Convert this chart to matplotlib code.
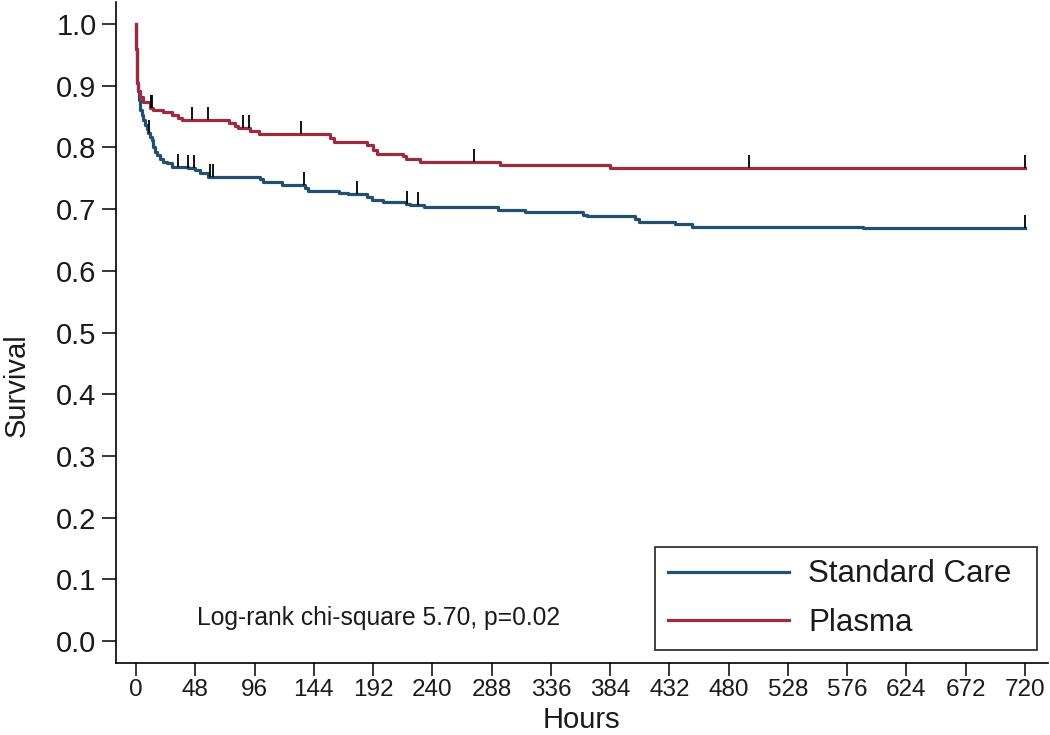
import numpy as np
import matplotlib
matplotlib.use("Agg")
import matplotlib.pyplot as plt

plt.rcParams['font.family'] = ['Liberation Sans', 'DejaVu Sans']

# Kaplan-Meier step estimates: event times (hours) and survival just after each step
care_times = [0, 0.3, 0.6, 1.5, 2.5, 3.5, 4.6, 5.9, 7.3, 8.6, 10, 11.3, 12.7, 14,
              15.4, 16.7, 19.4, 22, 25, 29, 42, 48, 52, 58.6, 100.4, 103, 118,
              137, 139.6, 164, 172, 187, 191, 200, 219, 222, 233, 293.5, 315,
              362, 365, 404, 407, 436.5, 450, 589]
care_surv = [1.0, 0.96, 0.905, 0.891, 0.877, 0.861, 0.853, 0.845, 0.837, 0.829,
             0.823, 0.817, 0.812, 0.801, 0.793, 0.788, 0.782, 0.777, 0.774, 0.769,
             0.766, 0.763, 0.758, 0.752, 0.748, 0.744, 0.739, 0.734, 0.730, 0.726,
             0.724, 0.720, 0.715, 0.712, 0.708, 0.706, 0.703, 0.699, 0.696, 0.691,
             0.689, 0.684, 0.679, 0.676, 0.671, 0.669]
care_censored = [10.5, 34, 42.5, 47.2, 60, 62.1, 136, 178.7, 219.8, 228.2, 720]

plasma_times = [0, 0.3, 0.6, 1.5, 3, 6, 11.5, 14, 22, 29, 34, 37, 75, 80, 83, 92,
                100, 157, 160, 187, 192, 195, 216.5, 219, 230, 295, 384]
plasma_surv = [1.0, 0.96, 0.905, 0.891, 0.881, 0.874, 0.864, 0.861, 0.858, 0.853,
               0.848, 0.845, 0.839, 0.834, 0.831, 0.826, 0.822, 0.816, 0.809, 0.804,
               0.796, 0.789, 0.786, 0.782, 0.777, 0.772, 0.767]
plasma_censored = [12, 12.7, 45, 58.6, 87, 91.5, 133.4, 274, 496.5, 720]

follow_up_end = 720
x_ticks = list(range(0, 721, 48))
y_ticks = [0.0, 0.1, 0.2, 0.3, 0.4, 0.5, 0.6, 0.7, 0.8, 0.9, 1.0]
labels = ["Standard Care", "Plasma"]
annotation = "Log-rank chi-square 5.70, p=0.02"

care_color = "#23506F"
plasma_color = "#9E2A3F"
ink = "#1a1a1a"

W, H = 1050, 735
fig = plt.figure(figsize=(W / 100, H / 100), dpi=100)
ax = fig.add_axes([116 / W, 1 - 662.7 / H, (1048 - 116) / W, (662.7 - 2) / H])


def km_curve(ax, times, surv, censored, color, label):
    t = np.append(times, follow_up_end)
    s = np.append(surv, surv[-1])
    ax.step(t, s, where="post", color=color, lw=2.3, label=label, zorder=3)
    idx = np.searchsorted(times, censored, side="right") - 1
    levels = np.asarray(surv)[idx]
    ax.vlines(censored, levels, levels + 0.021, color="black", lw=1.3, zorder=4)


km_curve(ax, care_times, care_surv, care_censored, care_color, labels[0])
km_curve(ax, plasma_times, plasma_surv, plasma_censored, plasma_color, labels[1])

ax.set_xlim(-16.2, 738.6)
ax.set_ylim(-0.035, 1.0356)
ax.set_xticks(x_ticks)
ax.set_yticks(y_ticks)
ax.set_yticklabels([f"{v:.1f}" for v in y_ticks])

for side in ("top", "right"):
    ax.spines[side].set_visible(False)
for side in ("left", "bottom"):
    ax.spines[side].set_linewidth(1.2)
    ax.spines[side].set_color("black")

ax.tick_params(axis="y", direction="out", length=10, width=1.1, pad=4,
               labelsize=21, labelcolor=ink)
ax.tick_params(axis="x", direction="out", length=9, width=1.1, pad=3,
               labelsize=17.5, labelcolor=ink)

fig.text(17 / W, 1 - 385 / H, "Survival", rotation=90, ha="center", va="center",
         fontsize=21, color=ink)
fig.text(581 / W, 1 - 720 / H, "Hours", ha="center", va="center",
         fontsize=21, color=ink)
fig.text(197 / W, 1 - 617.5 / H, annotation, ha="left", va="center",
         fontsize=17.7, color=ink)

# Legend box spans a fixed width; the single column is stretched to fill it
leg = ax.legend(loc="upper left",
                bbox_to_anchor=(655 / W, 1 - 650 / H, (1037 - 655) / W, (650 - 547) / H),
                bbox_transform=fig.transFigure, mode="expand", fontsize=22.5,
                frameon=True, fancybox=False, edgecolor="black", handlelength=3.9,
                handletextpad=0.6, borderpad=0.4, labelspacing=0.58,
                borderaxespad=0)
leg.get_frame().set_linewidth(1.3)
for line in leg.get_lines():
    line.set_linewidth(2.3)
for txt in leg.get_texts():
    txt.set_color(ink)

fig.savefig("out.png", dpi=100)
